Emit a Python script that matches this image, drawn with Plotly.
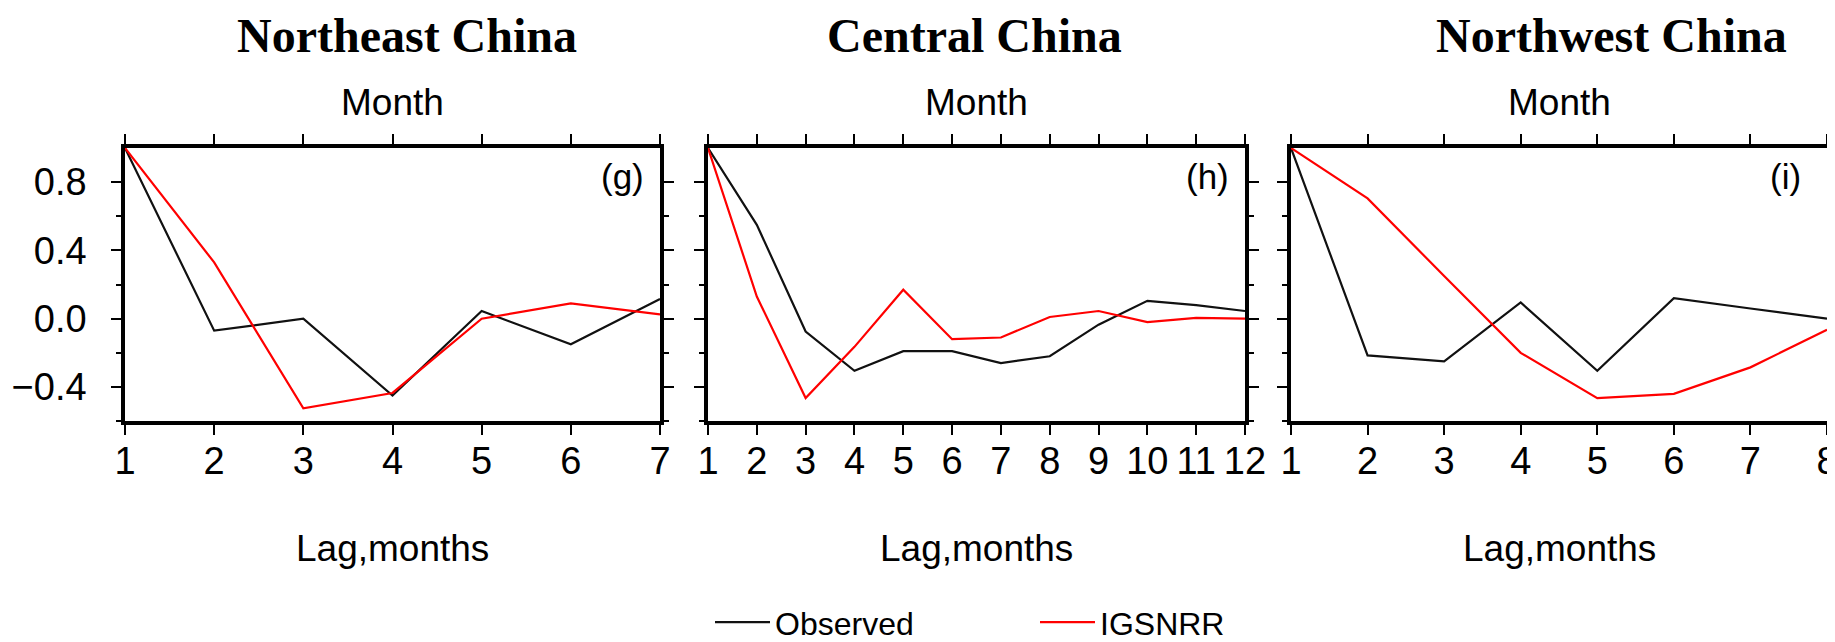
import plotly.graph_objects as go

# ---- data ----
regions = ["Northeast China", "Central China", "Northwest China"]
panel_tags = ["(g)", "(h)", "(i)"]

lag_ne = [1, 2, 3, 4, 5, 6, 7]
obs_ne = [1.0, -0.07, 0.0, -0.45, 0.045, -0.15, 0.115]
igs_ne = [1.0, 0.33, -0.525, -0.435, 0.0, 0.09, 0.025]

lag_cc = [1, 2, 3, 4, 5, 6, 7, 8, 9, 10, 11, 12]
obs_cc = [1.0, 0.55, -0.075, -0.305, -0.19, -0.19, -0.26, -0.22, -0.035, 0.105, 0.08, 0.045]
igs_cc = [1.0, 0.13, -0.465, -0.165, 0.17, -0.12, -0.11, 0.01, 0.045, -0.02, 0.005, 0.0]

lag_nw = [1, 2, 3, 4, 5, 6, 7, 8]
obs_nw = [1.0, -0.215, -0.25, 0.095, -0.305, 0.12, 0.06, 0.0]
igs_nw = [1.0, 0.705, 0.25, -0.2, -0.465, -0.44, -0.285, -0.065]

series_names = ["Observed", "IGSNRR"]
series_colors = ["#111111", "#ff0000"]

y_tickvals = [-0.4, 0.0, 0.4, 0.8]
y_minor_vals = [-0.6, -0.2, 0.2, 0.6]
y_range = [-0.6, 1.0]

# ---- layout geometry ----
W, H = 1835, 642
px_l = [117, 700, 1283]
px_r = [652, 1237, 1819]
px_top, px_bot = 142, 419
title_cx = [399, 966, 1603]
tag_right = [638, 1223, 1795]

def fx(p):
    return p / W

def fy(p):
    return (H - p) / H

fig = go.Figure()

panels = [(lag_ne, obs_ne, igs_ne), (lag_cc, obs_cc, igs_cc), (lag_nw, obs_nw, igs_nw)]
tick_font = dict(family="Liberation Sans, Arial, sans-serif", size=38, color="black")

for i, (lags, obs, igs) in enumerate(panels):
    xa = "x" if i == 0 else f"x{i+1}"
    ya = "y" if i == 0 else f"y{i+1}"
    for vals, name, col in zip([obs, igs], series_names, series_colors):
        fig.add_trace(go.Scatter(
            x=lags, y=vals, mode="lines", name=name,
            line=dict(color=col, width=2.2),
            xaxis=xa, yaxis=ya, showlegend=(i == 0),
        ))
    xkey = "xaxis" if i == 0 else f"xaxis{i+1}"
    ykey = "yaxis" if i == 0 else f"yaxis{i+1}"
    fig.update_layout({
        xkey: dict(
            domain=[fx(px_l[i]), fx(px_r[i])], anchor=ya,
            range=[lags[0], lags[-1]], tickvals=lags, ticktext=[str(v) for v in lags],
            showgrid=False, zeroline=False, showline=True, linecolor="black", linewidth=3.5,
            mirror="ticks", ticks="outside", ticklen=10, tickwidth=2, tickcolor="black",
            tickfont=tick_font, ticklabelstandoff=-6, automargin=False,
        ),
        ykey: dict(
            domain=[fy(px_bot), fy(px_top)], anchor=xa,
            range=y_range, tickvals=y_tickvals, tickformat=".1f",
            showgrid=False, zeroline=False, showline=True, linecolor="black", linewidth=3.5,
            mirror="ticks", ticks="outside", ticklen=10, tickwidth=2, tickcolor="black",
            minor=dict(tickvals=y_minor_vals, ticks="outside", ticklen=5,
                       tickwidth=2, tickcolor="black"),
            tickfont=tick_font, showticklabels=(i == 0), ticklabelstandoff=17,
            automargin=False,
        ),
    })

annotations = []
for i in range(3):
    cx = (px_l[i] + px_r[i]) / 2
    annotations.append(dict(text=f"<b>{regions[i]}</b>", x=fx(title_cx[i]), y=fy(28),
                            xref="paper", yref="paper", xanchor="center", yanchor="middle",
                            showarrow=False,
                            font=dict(family="Liberation Serif, Times New Roman, serif", size=48, color="black")))
    annotations.append(dict(text="Month", x=fx(cx), y=fy(96), xref="paper", yref="paper",
                            xanchor="center", yanchor="middle", showarrow=False,
                            font=dict(family="Liberation Sans, Arial, sans-serif", size=37, color="black")))
    annotations.append(dict(text="Lag,months", x=fx(cx), y=fy(548), xref="paper", yref="paper",
                            xanchor="center", yanchor="middle", showarrow=False,
                            font=dict(family="Liberation Sans, Arial, sans-serif", size=37, color="black")))
    annotations.append(dict(text=panel_tags[i], x=fx(tag_right[i]), y=fy(171), xref="paper", yref="paper",
                            xanchor="right", yanchor="middle", showarrow=False,
                            font=dict(family="Liberation Sans, Arial, sans-serif", size=35, color="black")))

fig.update_layout(
    width=W, height=H,
    margin=dict(l=0, r=0, t=0, b=0),
    paper_bgcolor="white", plot_bgcolor="white",
    annotations=annotations,
    showlegend=True,
    legend=dict(orientation="h", x=fx(702), y=fy(623), xanchor="left", yanchor="middle",
                entrywidth=255, entrywidthmode="pixels",
                font=dict(family="Liberation Sans Narrow, Liberation Sans, Arial, sans-serif", size=32, color="black"),
                bgcolor="rgba(0,0,0,0)", itemwidth=55),
)

fig.write_html("out.html")
